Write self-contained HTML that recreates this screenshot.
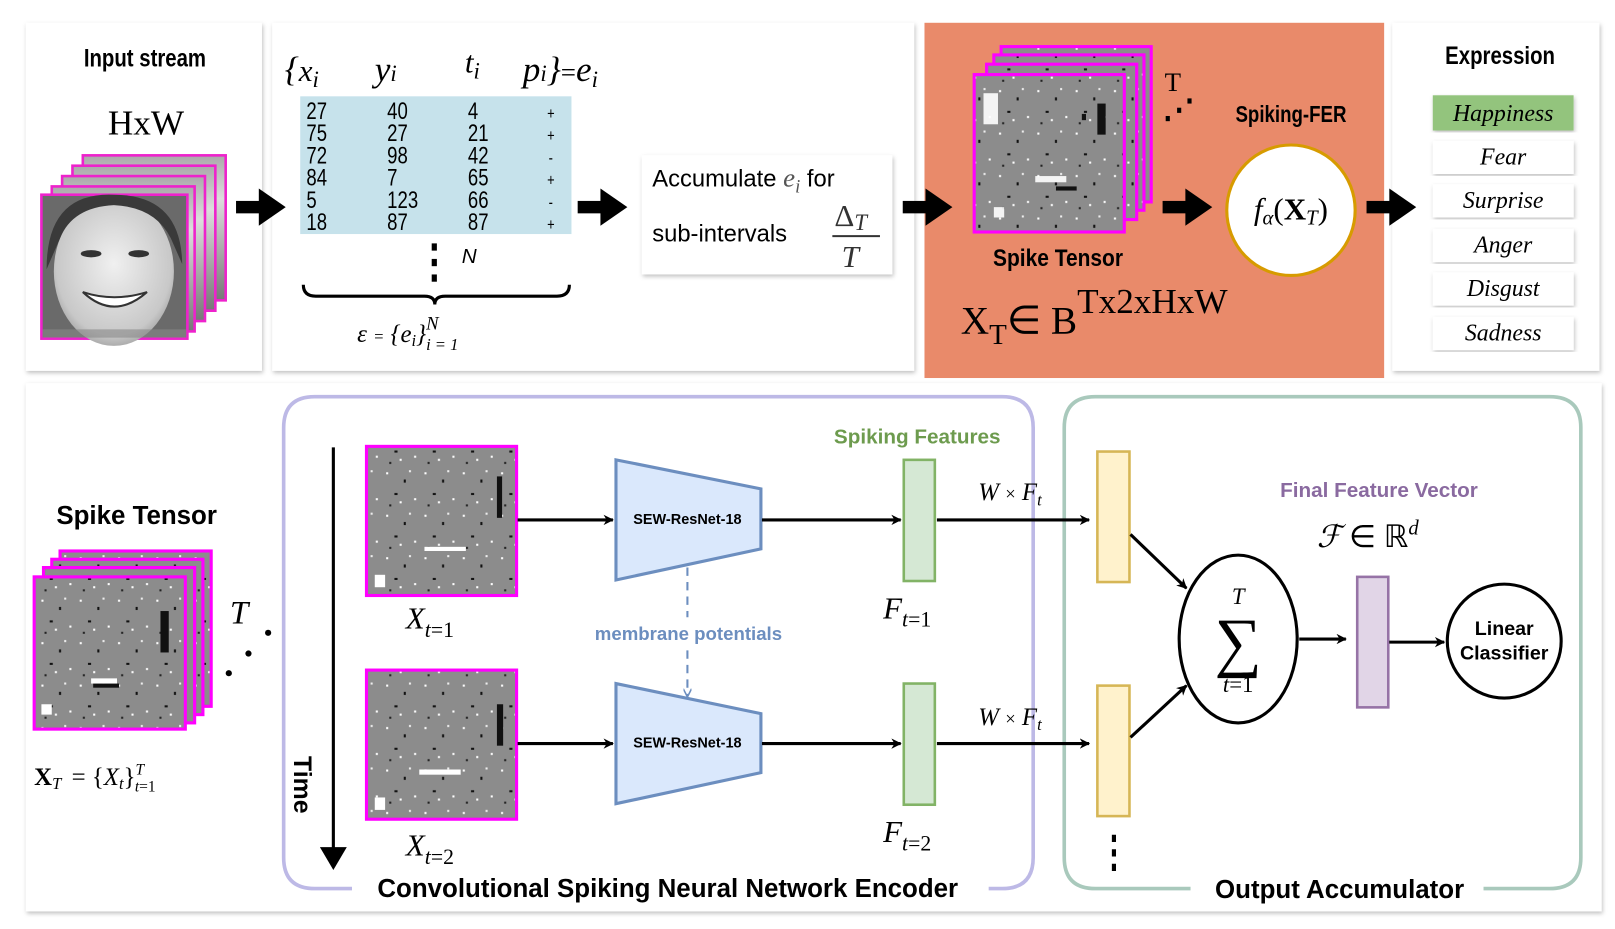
<!DOCTYPE html>
<html><head><meta charset="utf-8"><style>
html,body{margin:0;padding:0;background:#fff;}
svg{display:block}
.sans{font-family:"Liberation Sans",sans-serif;}
.serif{font-family:"Liberation Serif",serif;}
</style></head><body>
<svg width="1615" height="929" viewBox="0 0 1560 897" preserveAspectRatio="none" xmlns="http://www.w3.org/2000/svg">
<defs>
<filter id="sh" x="-5%" y="-5%" width="110%" height="110%"><feDropShadow dx="1" dy="2" stdDeviation="2" flood-color="#000" flood-opacity="0.25"/></filter>
<linearGradient id="fg" x1="0" y1="0" x2="0" y2="1"><stop offset="0" stop-color="#aaa"/><stop offset="0.3" stop-color="#ddd"/><stop offset="1" stop-color="#777"/></linearGradient>
<radialGradient id="skin" cx="0.5" cy="0.45" r="0.6"><stop offset="0" stop-color="#f0f0f0"/><stop offset="0.8" stop-color="#c8c8c8"/><stop offset="1" stop-color="#999"/></radialGradient>
<pattern id="spk" width="37" height="41" patternUnits="userSpaceOnUse">
<rect width="37" height="41" fill="#8c8c8c"/>
<rect x="3" y="5" width="2" height="2" fill="#fff"/><rect x="20" y="12" width="2" height="3" fill="#111"/>
<rect x="30" y="30" width="2" height="2" fill="#fff"/><rect x="11" y="25" width="3" height="2" fill="#111"/>
<rect x="25" y="3" width="2" height="2" fill="#eee"/><rect x="6" y="36" width="2" height="2" fill="#222"/>
<rect x="16" y="33" width="2" height="2" fill="#fff"/>
</pattern>
<marker id="ah" markerWidth="10" markerHeight="10" refX="9" refY="5" orient="auto" markerUnits="userSpaceOnUse"><path d="M0,0 L10,5 L0,10 L3,5 z" fill="#000"/></marker>
<marker id="ahb" markerWidth="8" markerHeight="8" refX="7" refY="4" orient="auto" markerUnits="userSpaceOnUse"><path d="M0,0 L8,4 L0,8" fill="none" stroke="#6c8ebf" stroke-width="1.5"/></marker>
<g id="bigarrow"><rect x="0" y="-6" width="24" height="12" fill="#000"/><path d="M22,-18 L48,0 L22,18 z" fill="#000"/></g>
</defs>

<!-- top panels -->
<rect x="25" y="22" width="228" height="336" fill="#fff" filter="url(#sh)"/>
<rect x="263" y="22" width="620" height="336" fill="#fff" filter="url(#sh)"/>
<rect x="893" y="22" width="444" height="343" fill="#E98A6A"/>
<rect x="1345" y="22" width="200" height="336" fill="#fff" filter="url(#sh)"/>

<!-- input stream -->
<text x="140" y="64" text-anchor="middle" class="sans" font-weight="bold" font-size="24" transform="translate(140 0) scale(0.82 1) translate(-140 0)">Input stream</text>
<text x="141" y="130" text-anchor="middle" class="serif" font-size="34">HxW</text>
<g stroke="#EE22CC" stroke-width="2.5">
<rect x="80" y="150" width="138" height="140" fill="url(#fg)"/>
<rect x="70" y="160" width="138" height="140" fill="url(#fg)"/>
<rect x="60" y="170" width="138" height="140" fill="url(#fg)"/>
<rect x="50" y="180" width="138" height="140" fill="url(#fg)"/>
<rect x="40" y="188" width="141" height="139" fill="#6a6a6a"/>
</g>
<ellipse cx="110" cy="262" rx="58" ry="72" fill="url(#skin)"/>
<path d="M45,260 Q45,185 110,188 Q175,188 176,255 L165,230 Q150,200 110,198 Q70,200 58,230 z" fill="#3a3a3a"/>
<ellipse cx="88" cy="245" rx="10" ry="3.5" fill="#333"/><ellipse cx="134" cy="245" rx="10" ry="3.5" fill="#333"/>
<path d="M80,282 Q110,310 142,282 Q110,292 80,282 z" fill="#fff" stroke="#333" stroke-width="2"/>
<rect x="41" y="318" width="139" height="8" fill="#888" opacity="0.6"/>

<use href="#bigarrow" x="228" y="200"/>

<!-- events -->
<text x="275" y="78" class="serif" font-style="italic" font-size="34">{<tspan font-size="30">x</tspan><tspan font-size="22" dy="6">i</tspan></text>
<text x="362" y="78" class="serif" font-style="italic" font-size="34">y<tspan font-size="22" dy="0">i</tspan></text>
<text x="449" y="70" class="serif" font-style="italic" font-size="30">t<tspan font-size="22" dy="6">i</tspan></text>
<text x="505" y="78" class="serif" font-style="italic" font-size="34">p<tspan font-size="22">i</tspan>}<tspan font-size="26" font-style="normal">=</tspan>e<tspan font-size="22" dy="6">i</tspan></text>
<rect x="290" y="93" width="262" height="133" fill="#C6E2EB"/>
<g class="sans" font-size="23" transform="translate(296 0) scale(0.78 1) translate(-296 0)">
<text x="296" y="115">27</text><text x="396" y="115">40</text><text x="496" y="115">4</text><text x="594" y="115" font-size="16">+</text>
<text x="296" y="136">75</text><text x="396" y="136">27</text><text x="496" y="136">21</text><text x="594" y="136" font-size="16">+</text>
<text x="296" y="158">72</text><text x="396" y="158">98</text><text x="496" y="158">42</text><text x="596" y="158" font-size="16">-</text>
<text x="296" y="179">84</text><text x="396" y="179">7</text><text x="496" y="179">65</text><text x="594" y="179" font-size="16">+</text>
<text x="296" y="201">5</text><text x="396" y="201">123</text><text x="496" y="201">66</text><text x="596" y="201" font-size="16">-</text>
<text x="296" y="222">18</text><text x="396" y="222">87</text><text x="496" y="222">87</text><text x="594" y="222" font-size="16">+</text>
</g>
<g fill="#000"><rect x="417" y="235" width="5" height="7"/><rect x="417" y="250" width="5" height="7"/><rect x="417" y="265" width="5" height="7"/></g>
<text x="446" y="254" class="sans" font-style="italic" font-size="20">N</text>
<path d="M293,275 Q293,286 305,286 L410,286 Q420,286 420,294 Q420,286 430,286 L538,286 Q550,286 550,275" fill="none" stroke="#000" stroke-width="3"/>
<text x="345" y="330" class="serif" font-style="italic" font-size="24">ε <tspan font-size="16">=</tspan> {e<tspan font-size="16" dy="4">i</tspan><tspan dy="-4">}</tspan><tspan font-size="18" dy="-12">N</tspan><tspan font-size="16" dx="-12" dy="20">i = 1</tspan></text>

<use href="#bigarrow" x="558" y="200"/>
<rect x="620" y="150" width="242" height="115" fill="#fff" filter="url(#sh)"/>
<text x="630" y="180" class="sans" font-size="23">Accumulate <tspan class="serif" font-style="italic" fill="#555" font-size="26">e</tspan><tspan class="serif" font-style="italic" fill="#555" font-size="18" dy="6">i</tspan><tspan dy="-6"> for</tspan></text>
<text x="630" y="233" class="sans" font-size="23">sub-intervals</text>
<text x="806" y="218" class="serif" font-size="30" fill="#333">Δ<tspan font-style="italic" font-size="22" dy="4">T</tspan></text>
<line x1="804" y1="228" x2="850" y2="228" stroke="#333" stroke-width="2"/>
<text x="813" y="258" class="serif" font-style="italic" font-size="30" fill="#333">T</text>

<use href="#bigarrow" x="872" y="200"/>

<!-- orange panel content -->
<g stroke="#FF00FF" stroke-width="3">
<rect x="967" y="45" width="145" height="150" fill="url(#spk)"/>
<rect x="960" y="53" width="145" height="150" fill="url(#spk)"/>
<rect x="953" y="62" width="145" height="150" fill="url(#spk)"/>
<rect x="941" y="72" width="145" height="152" fill="url(#spk)"/>
</g>
<g fill="#fff" opacity="0.9"><rect x="950" y="90" width="14" height="30"/><rect x="1000" y="170" width="30" height="6"/><rect x="960" y="200" width="10" height="10"/></g>
<g fill="#111"><rect x="1060" y="100" width="8" height="30"/><rect x="1020" y="180" width="20" height="4"/><rect x="1045" y="110" width="4" height="6"/></g>
<text x="1125" y="88" class="serif" font-size="26">T</text>
<g fill="#000"><rect x="1147" y="95" width="4" height="5"/><rect x="1137" y="104" width="4" height="5"/><rect x="1126" y="112" width="4" height="5"/></g>
<text x="1022" y="257" text-anchor="middle" class="sans" font-weight="bold" font-size="23" transform="translate(1022 0) scale(0.88 1) translate(-1022 0)">Spike Tensor</text>
<text x="928" y="322" class="serif" font-size="38">X<tspan font-size="28" dy="10">T</tspan><tspan dy="-10">∈ B</tspan><tspan font-size="34" dy="-20">Tx2xHxW</tspan></text>
<text x="1247" y="118" text-anchor="middle" class="sans" font-weight="bold" font-size="22" transform="translate(1247 0) scale(0.82 1) translate(-1247 0)">Spiking-FER</text>
<use href="#bigarrow" x="1123" y="200"/>
<ellipse cx="1247" cy="203" rx="62" ry="63" fill="#fff" stroke="#D79B00" stroke-width="3"/>
<text x="1247" y="212" text-anchor="middle" class="serif" font-size="30"><tspan font-style="italic">f</tspan><tspan font-style="italic" font-size="20" dy="5">α</tspan><tspan dy="-5">(</tspan><tspan font-weight="bold">X</tspan><tspan font-style="italic" font-size="20" dy="5">T</tspan><tspan dy="-5">)</tspan></text>
<use href="#bigarrow" x="1320" y="200"/>

<!-- expression -->
<text x="1449" y="62" text-anchor="middle" class="sans" font-weight="bold" font-size="24" transform="translate(1449 0) scale(0.82 1) translate(-1449 0)">Expression</text>
<rect x="1384" y="92" width="136" height="34" fill="#93C47D" filter="url(#sh)"/>
<rect x="1384" y="136" width="136" height="32" fill="#fff" filter="url(#sh)"/>
<rect x="1384" y="178" width="136" height="32" fill="#fff" filter="url(#sh)"/>
<rect x="1384" y="221" width="136" height="32" fill="#fff" filter="url(#sh)"/>
<rect x="1384" y="263" width="136" height="32" fill="#fff" filter="url(#sh)"/>
<rect x="1384" y="306" width="136" height="32" fill="#fff" filter="url(#sh)"/>
<g class="serif" font-style="italic" font-size="23" text-anchor="middle">
<text x="1452" y="117">Happiness</text><text x="1452" y="159">Fear</text><text x="1452" y="201">Surprise</text>
<text x="1452" y="244">Anger</text><text x="1452" y="286">Disgust</text><text x="1452" y="329">Sadness</text>
</g>

<!-- bottom panel -->
<rect x="25" y="370" width="1522" height="510" fill="#fff" filter="url(#sh)"/>
<text x="132" y="506" text-anchor="middle" class="sans" font-weight="bold" font-size="25">Spike Tensor</text>
<g stroke="#FF00FF" stroke-width="3">
<rect x="58" y="532" width="146" height="150" fill="url(#spk)"/>
<rect x="50" y="540" width="146" height="150" fill="url(#spk)"/>
<rect x="42" y="548" width="146" height="150" fill="url(#spk)"/>
<rect x="33" y="557" width="146" height="147" fill="url(#spk)"/>
</g>
<g fill="#111"><rect x="155" y="590" width="8" height="40"/><rect x="90" y="660" width="25" height="4"/></g>
<g fill="#fff"><rect x="40" y="680" width="10" height="10"/><rect x="88" y="655" width="25" height="5"/></g>
<text x="222" y="602" class="serif" font-style="italic" font-size="32">T</text>
<g fill="#000"><circle cx="259" cy="611" r="3"/><circle cx="240" cy="631" r="3"/><circle cx="221" cy="650" r="3"/></g>
<text x="33" y="758" class="serif" font-size="24"><tspan font-weight="bold">X</tspan><tspan font-style="italic" font-size="16" dy="4">T</tspan><tspan dy="-4" dx="10">= {</tspan><tspan font-style="italic">X</tspan><tspan font-style="italic" font-size="16" dy="4">t</tspan><tspan dy="-4">}</tspan><tspan font-style="italic" font-size="15" dy="-10">T</tspan><tspan font-size="15" dx="-9" dy="16"><tspan font-style="italic">t</tspan>=1</tspan></text>

<!-- encoder box -->
<path d="M340,858 L304,858 Q274,858 274,828 L274,413 Q274,383 304,383 L968,383 Q998,383 998,413 L998,828 Q998,858 968,858 L955,858" fill="none" stroke="#BDB9E6" stroke-width="3.5"/>
<text x="645" y="866" text-anchor="middle" class="sans" font-weight="bold" font-size="25">Convolutional Spiking Neural Network Encoder</text>
<path d="M1150,858 L1058,858 Q1028,858 1028,828 L1028,413 Q1028,383 1058,383 L1497,383 Q1527,383 1527,413 L1527,828 Q1527,858 1497,858 L1433,858" fill="none" stroke="#A9C9BC" stroke-width="3.5"/>
<text x="1294" y="867" text-anchor="middle" class="sans" font-weight="bold" font-size="25">Output Accumulator</text>

<!-- time axis -->
<line x1="322" y1="432" x2="322" y2="820" stroke="#000" stroke-width="3"/>
<path d="M309,818 L322,840 L335,818 z" fill="#000"/>
<text x="0" y="0" class="sans" font-weight="bold" font-size="24" transform="translate(284 730) rotate(90)">Time</text>

<!-- frames -->
<rect x="354" y="431" width="145" height="144" fill="url(#spk)" stroke="#FF00FF" stroke-width="3"/>
<rect x="354" y="647" width="145" height="144" fill="url(#spk)" stroke="#FF00FF" stroke-width="3"/>
<g fill="#fff"><rect x="410" y="528" width="40" height="4"/><rect x="362" y="555" width="10" height="12"/><rect x="405" y="743" width="40" height="5"/><rect x="362" y="770" width="10" height="12"/></g>
<g fill="#111"><rect x="480" y="460" width="5" height="40"/><rect x="480" y="680" width="6" height="40"/></g>
<text x="392" y="607" class="serif" font-style="italic" font-size="30">X<tspan font-size="21" dy="8">t</tspan><tspan font-style="normal" font-size="21">=1</tspan></text>
<text x="392" y="826" class="serif" font-style="italic" font-size="30">X<tspan font-size="21" dy="8">t</tspan><tspan font-style="normal" font-size="21">=2</tspan></text>

<line x1="500" y1="502" x2="592" y2="502" stroke="#000" stroke-width="3" marker-end="url(#ah)"/>
<line x1="500" y1="718" x2="592" y2="718" stroke="#000" stroke-width="3" marker-end="url(#ah)"/>
<path d="M595,444 L735,472 L735,530 L595,560 z" fill="#DAE8FC" stroke="#6C8EBF" stroke-width="3"/>
<path d="M595,660 L735,689 L735,746 L595,776 z" fill="#DAE8FC" stroke="#6C8EBF" stroke-width="3"/>
<text x="664" y="506" text-anchor="middle" class="sans" font-weight="bold" font-size="14">SEW-ResNet-18</text>
<text x="664" y="722" text-anchor="middle" class="sans" font-weight="bold" font-size="14">SEW-ResNet-18</text>
<line x1="664" y1="548" x2="664" y2="596" stroke="#6C8EBF" stroke-width="2" stroke-dasharray="8,6"/>
<line x1="664" y1="628" x2="664" y2="672" stroke="#6C8EBF" stroke-width="2" stroke-dasharray="8,6" marker-end="url(#ahb)"/>
<text x="665" y="618" text-anchor="middle" class="sans" font-weight="bold" font-size="18" fill="#6C8EBF">membrane potentials</text>

<line x1="736" y1="502" x2="870" y2="502" stroke="#000" stroke-width="3" marker-end="url(#ah)"/>
<line x1="736" y1="718" x2="870" y2="718" stroke="#000" stroke-width="3" marker-end="url(#ah)"/>
<text x="886" y="428" text-anchor="middle" class="sans" font-weight="bold" font-size="20" fill="#6D9B4E">Spiking Features</text>
<rect x="873" y="444" width="30" height="117" fill="#D5E8D4" stroke="#82B366" stroke-width="2.5"/>
<rect x="873" y="660" width="30" height="117" fill="#D5E8D4" stroke="#82B366" stroke-width="2.5"/>
<text x="853" y="597" class="serif" font-style="italic" font-size="30">F<tspan font-size="21" dy="8">t</tspan><tspan font-style="normal" font-size="21">=1</tspan></text>
<text x="853" y="813" class="serif" font-style="italic" font-size="30">F<tspan font-size="21" dy="8">t</tspan><tspan font-style="normal" font-size="21">=2</tspan></text>
<text x="945" y="483" class="serif" font-style="italic" font-size="24">W <tspan font-style="normal" font-size="18">×</tspan> F<tspan font-size="16" dy="5">t</tspan></text>
<text x="945" y="700" class="serif" font-style="italic" font-size="24">W <tspan font-style="normal" font-size="18">×</tspan> F<tspan font-size="16" dy="5">t</tspan></text>
<line x1="905" y1="502" x2="1052" y2="502" stroke="#000" stroke-width="3" marker-end="url(#ah)"/>
<line x1="905" y1="718" x2="1052" y2="718" stroke="#000" stroke-width="3" marker-end="url(#ah)"/>

<rect x="1060" y="436" width="31" height="126" fill="#FFF2CC" stroke="#D6B656" stroke-width="2.5"/>
<rect x="1060" y="662" width="31" height="126" fill="#FFF2CC" stroke="#D6B656" stroke-width="2.5"/>
<g fill="#000"><rect x="1074" y="806" width="4" height="7"/><rect x="1074" y="820" width="4" height="7"/><rect x="1074" y="834" width="4" height="7"/></g>
<line x1="1092" y1="516" x2="1146" y2="568" stroke="#000" stroke-width="3" marker-end="url(#ah)"/>
<line x1="1092" y1="712" x2="1146" y2="662" stroke="#000" stroke-width="3" marker-end="url(#ah)"/>
<ellipse cx="1196" cy="617" rx="57" ry="81" fill="#fff" stroke="#000" stroke-width="3"/>
<text x="1196" y="583" text-anchor="middle" class="serif" font-style="italic" font-size="22">T</text>
<text x="1196" y="641" text-anchor="middle" class="serif" font-size="64">∑</text>
<text x="1196" y="668" text-anchor="middle" class="serif" font-size="22"><tspan font-style="italic">t</tspan>=1</text>
<line x1="1255" y1="617" x2="1300" y2="617" stroke="#000" stroke-width="3" marker-end="url(#ah)"/>
<text x="1332" y="480" text-anchor="middle" class="sans" font-weight="bold" font-size="20" fill="#8A6AA0">Final Feature Vector</text>
<text x="1272" y="528" class="serif" font-style="italic" font-size="30">ℱ <tspan font-style="normal">∈ ℝ</tspan><tspan font-size="20" dy="-12">d</tspan></text>
<rect x="1311" y="557" width="30" height="126" fill="#E1D5E7" stroke="#9673A6" stroke-width="2.5"/>
<line x1="1342" y1="620" x2="1395" y2="620" stroke="#000" stroke-width="3" marker-end="url(#ah)"/>
<ellipse cx="1453" cy="619" rx="55" ry="55" fill="#fff" stroke="#000" stroke-width="3"/>
<text x="1453" y="613" text-anchor="middle" class="sans" font-weight="bold" font-size="19">Linear</text>
<text x="1453" y="637" text-anchor="middle" class="sans" font-weight="bold" font-size="19">Classifier</text>
</svg>
</body></html>
